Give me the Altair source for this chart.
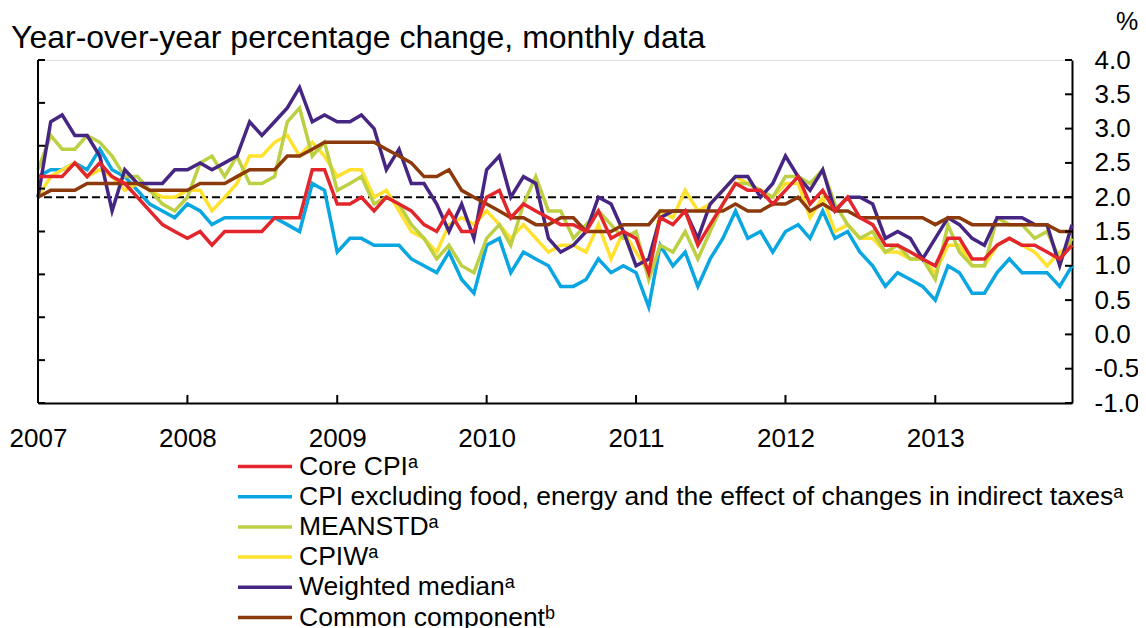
import altair as alt
import pandas as pd

FONT = "Liberation Sans"

months = pd.date_range("2007-01-01", periods=84, freq="MS")

core_cpi = [2.3, 2.3, 2.3, 2.5, 2.3, 2.5, 2.3, 2.2, 2.0, 1.8, 1.6, 1.5,
            1.4, 1.5, 1.3, 1.5, 1.5, 1.5, 1.5, 1.7, 1.7, 1.7, 2.4, 2.4,
            1.9, 1.9, 2.0, 1.8, 2.0, 1.9, 1.8, 1.6, 1.5, 1.8, 1.5, 1.5,
            2.0, 2.1, 1.7, 1.9, 1.8, 1.7, 1.6, 1.6, 1.5, 1.8, 1.4, 1.5,
            1.4, 0.9, 1.7, 1.6, 1.8, 1.3, 1.6, 1.9, 2.2, 2.1, 2.1, 1.9,
            2.1, 2.3, 1.9, 2.1, 1.8, 2.0, 1.7, 1.6, 1.3, 1.3, 1.2, 1.1,
            1.0, 1.4, 1.4, 1.1, 1.1, 1.3, 1.4, 1.3, 1.3, 1.2, 1.1, 1.3]

cpix_fet = [2.3, 2.4, 2.4, 2.5, 2.4, 2.7, 2.4, 2.3, 2.1, 1.9, 1.8, 1.7,
            1.9, 1.8, 1.6, 1.7, 1.7, 1.7, 1.7, 1.7, 1.6, 1.5, 2.2, 2.1,
            1.2, 1.4, 1.4, 1.3, 1.3, 1.3, 1.1, 1.0, 0.9, 1.2, 0.8, 0.6,
            1.3, 1.4, 0.9, 1.2, 1.1, 1.0, 0.7, 0.7, 0.8, 1.1, 0.9, 1.0,
            0.9, 0.4, 1.3, 1.0, 1.2, 0.7, 1.1, 1.4, 1.8, 1.4, 1.5, 1.2,
            1.5, 1.6, 1.4, 1.8, 1.4, 1.5, 1.2, 1.0, 0.7, 0.9, 0.8, 0.7,
            0.5, 1.0, 0.9, 0.6, 0.6, 0.9, 1.1, 0.9, 0.9, 0.9, 0.7, 1.0]

meanstd = [2.4, 2.9, 2.7, 2.7, 2.9, 2.8, 2.6, 2.3, 2.3, 2.1, 1.9, 1.8,
           2.0, 2.5, 2.6, 2.3, 2.6, 2.2, 2.2, 2.3, 3.1, 3.3, 2.6, 2.8,
           2.1, 2.2, 2.3, 1.9, 2.0, 1.9, 1.6, 1.4, 1.1, 1.3, 1.0, 0.9,
           1.4, 1.6, 1.3, 1.9, 2.3, 1.8, 1.8, 1.4, 1.6, 1.8, 1.6, 1.4,
           1.5, 0.8, 1.3, 1.2, 1.5, 1.1, 1.5, 1.9, 2.2, 2.2, 2.1, 2.0,
           2.3, 2.3, 2.2, 2.4, 1.9, 1.6, 1.4, 1.5, 1.2, 1.3, 1.1, 1.1,
           0.8, 1.6, 1.2, 1.0, 1.0, 1.7, 1.6, 1.6, 1.4, 1.5, 1.1, 1.4]

cpiw = [2.0, 2.3, 2.4, 2.5, 2.3, 2.4, 2.3, 2.1, 2.2, 2.1, 2.0, 2.0,
        2.1, 2.1, 1.8, 2.0, 2.2, 2.6, 2.6, 2.8, 2.9, 2.6, 2.8, 2.6,
        2.3, 2.4, 2.4, 2.0, 2.1, 1.8, 1.5, 1.4, 1.2, 1.6, 1.7, 1.6,
        1.8, 1.6, 1.4, 1.6, 1.4, 1.2, 1.3, 1.3, 1.2, 1.6, 1.1, 1.5,
        1.2, 0.9, 1.8, 1.7, 2.1, 1.8, 1.9, 2.1, 2.3, 2.2, 2.1, 2.0,
        2.2, 2.2, 1.7, 2.0, 1.5, 1.6, 1.4, 1.4, 1.2, 1.2, 1.1, 1.1,
        0.9, 1.3, 1.3, 1.0, 1.0, 1.3, 1.4, 1.3, 1.2, 1.0, 1.2, 1.3]

weighted_median = [2.0, 3.1, 3.2, 2.9, 2.9, 2.6, 1.8, 2.4, 2.2, 2.2, 2.2, 2.4,
                   2.4, 2.5, 2.4, 2.5, 2.6, 3.1, 2.9, 3.1, 3.3, 3.6, 3.1, 3.2,
                   3.1, 3.1, 3.2, 3.0, 2.4, 2.7, 2.2, 2.2, 1.9, 1.5, 1.9, 1.4,
                   2.4, 2.6, 2.0, 2.3, 2.2, 1.4, 1.2, 1.3, 1.5, 2.0, 1.9, 1.5,
                   1.0, 1.1, 1.7, 1.8, 1.8, 1.4, 1.9, 2.1, 2.3, 2.3, 2.0, 2.2,
                   2.6, 2.3, 2.1, 2.4, 1.8, 2.0, 2.0, 1.9, 1.4, 1.5, 1.4, 1.1,
                   1.4, 1.7, 1.6, 1.4, 1.3, 1.7, 1.7, 1.7, 1.6, 1.6, 1.0, 1.6]

common_component = [2.0, 2.1, 2.1, 2.1, 2.2, 2.2, 2.2, 2.2, 2.2, 2.1, 2.1, 2.1,
                    2.1, 2.2, 2.2, 2.2, 2.3, 2.4, 2.4, 2.4, 2.6, 2.6, 2.7, 2.8,
                    2.8, 2.8, 2.8, 2.8, 2.7, 2.6, 2.5, 2.3, 2.3, 2.4, 2.1, 2.0,
                    1.9, 1.8, 1.7, 1.7, 1.6, 1.6, 1.7, 1.7, 1.5, 1.5, 1.5, 1.6,
                    1.6, 1.6, 1.8, 1.8, 1.8, 1.8, 1.8, 1.8, 1.9, 1.8, 1.8, 1.9,
                    1.9, 2.0, 1.8, 1.9, 1.8, 1.8, 1.7, 1.7, 1.7, 1.7, 1.7, 1.7,
                    1.6, 1.7, 1.7, 1.6, 1.6, 1.6, 1.6, 1.6, 1.6, 1.6, 1.5, 1.5]

series_names = [
    "Core CPI\u1d43",
    "CPI excluding food, energy and the effect of changes in indirect taxes\u1d43",
    "MEANSTD\u1d43",
    "CPIW\u1d43",
    "Weighted median\u1d43",
    "Common component\u1d47",
]
series_values = [core_cpi, cpix_fet, meanstd, cpiw, weighted_median, common_component]
series_colors = ["#E3262B", "#0AA6E2", "#BDD043", "#FFE12E", "#472683", "#8C3A0C"]
draw_order = [1, 3, 2, 4, 5, 0]

years = [2007, 2008, 2009, 2010, 2011, 2012, 2013]
y_tick_labels = [-1.0, -0.5, 0.0, 0.5, 1.0, 1.5, 2.0, 2.5, 3.0, 3.5, 4.0]
left_tick_values = [-1.0, -0.375, 0.25, 0.875, 1.5, 2.125, 2.75, 3.375, 4.0]
target_value = 2.0
unit_label = "%"
title_text = "Year-over-year percentage change, monthly data"

rows = []
for name, vals in zip(series_names, series_values):
    for d, v in zip(months, vals):
        rows.append({"date": d, "value": v, "series": name})
df = pd.DataFrame(rows)

start = alt.DateTime(year=2007, month=1, date=1)
end = alt.DateTime(year=2013, month=12, date=1)

xscale = alt.Scale(domain=[start, end], nice=False)
yscale = alt.Scale(domain=[-1, 4], nice=False, zero=False)

xaxis = alt.Axis(
    values=[alt.DateTime(year=y, month=1, date=1) for y in years],
    format="%Y", labelFont=FONT, labelFontSize=26, labelColor="black",
    labelPadding=22, labelFlush=False, labelOverlap=False,
    ticks=False, tickSize=0, domainColor="black", domainWidth=2,
    grid=False, title=None,
)
yaxis = alt.Axis(
    orient="right", values=y_tick_labels,
    labelExpr="replace(format(datum.value, '.1f'), '\u2212', '-')",
    labelAlign="left", labelBaseline="middle", labelPadding=22,
    labelFont=FONT, labelFontSize=26, labelColor="black",
    labelFlush=False, labelOverlap=False,
    ticks=False, tickSize=0, domainColor="black", domainWidth=2, grid=False,
    title=None,
)
legend = alt.Legend(
    orient="none", legendX=198, legendY=394, direction="vertical",
    title=None, symbolType="stroke", symbolSize=2916, symbolStrokeWidth=3.5,
    clipHeight=25, labelFont=FONT, labelFontSize=26.5, labelColor="black",
    labelLimit=2000, labelOffset=5, rowPadding=3.2, padding=0,
)
color = alt.Color("series:N", scale=alt.Scale(domain=series_names, range=series_colors),
                  legend=legend)

layers = []
layers.append(
    alt.Chart(pd.DataFrame({"v": [target_value]})).mark_rule(
        color="black", strokeWidth=2, strokeDash=[8, 4]
    ).encode(y=alt.Y("v:Q", scale=yscale, axis=yaxis))
)
for k in draw_order:
    layers.append(
        alt.Chart(df[df["series"] == series_names[k]]).mark_line(
            strokeWidth=3.5, strokeJoin="miter"
        ).encode(
            x=alt.X("date:T", scale=xscale, axis=xaxis),
            y=alt.Y("value:Q", scale=yscale, axis=yaxis),
            color=color,
        )
    )

# inward tick marks of the bottom axis
year_df = pd.DataFrame({"d": [pd.Timestamp(year=y, month=1, day=1) for y in years]})
layers.append(
    alt.Chart(year_df).mark_rule(color="black", strokeWidth=2, y2Offset=-8).encode(
        x=alt.X("d:T", scale=xscale, axis=xaxis),
        y=alt.Y(datum=-1, scale=yscale, axis=yaxis),
        y2=alt.Y2(datum=-1),
    )
)
# inward tick marks of the right axis
layers.append(
    alt.Chart(pd.DataFrame({"v": y_tick_labels})).mark_rule(
        color="black", strokeWidth=2, x2Offset=-7
    ).encode(
        y=alt.Y("v:Q", scale=yscale, axis=yaxis),
        x=alt.X(datum=end, scale=xscale, axis=xaxis),
        x2=alt.X2(datum=end),
    )
)
# left axis line and its inward ticks
layers.append(
    alt.Chart(pd.DataFrame({"v": left_tick_values})).mark_rule(
        color="black", strokeWidth=2, x2Offset=7
    ).encode(
        y=alt.Y("v:Q", scale=yscale, axis=yaxis),
        x=alt.X(datum=start, scale=xscale, axis=xaxis),
        x2=alt.X2(datum=start),
    )
)
layers.append(
    alt.Chart(pd.DataFrame({"a": [-1.0], "b": [4.0]})).mark_rule(
        color="black", strokeWidth=2
    ).encode(
        x=alt.X(datum=start, scale=xscale, axis=xaxis),
        y=alt.Y("a:Q", scale=yscale, axis=yaxis),
        y2="b:Q",
    )
)
# unit label above the right axis
layers.append(
    alt.Chart(pd.DataFrame({"t": [unit_label]})).mark_text(
        font=FONT, fontSize=25, color="black", align="center", baseline="middle",
        dx=55, dy=-38,
    ).encode(
        x=alt.X(datum=end, scale=xscale, axis=xaxis),
        y=alt.Y(datum=4, scale=yscale, axis=yaxis),
        text="t:N",
    )
)

chart = alt.layer(*layers).properties(
    width=1034, height=343,
    autosize=alt.AutoSizeParams(type="none"),
    padding={"left": 30, "top": 52, "right": 66, "bottom": 225},
    title=alt.Title(
        title_text,
        anchor="start", frame="group", font=FONT, fontSize=32,
        fontWeight="normal", color="black", baseline="alphabetic",
        offset=1, dx=-27, dy=71,
    ),
).configure_view(stroke=None).configure(background="white")

chart.save("out.html", embed_options={"renderer": "svg", "actions": False})
